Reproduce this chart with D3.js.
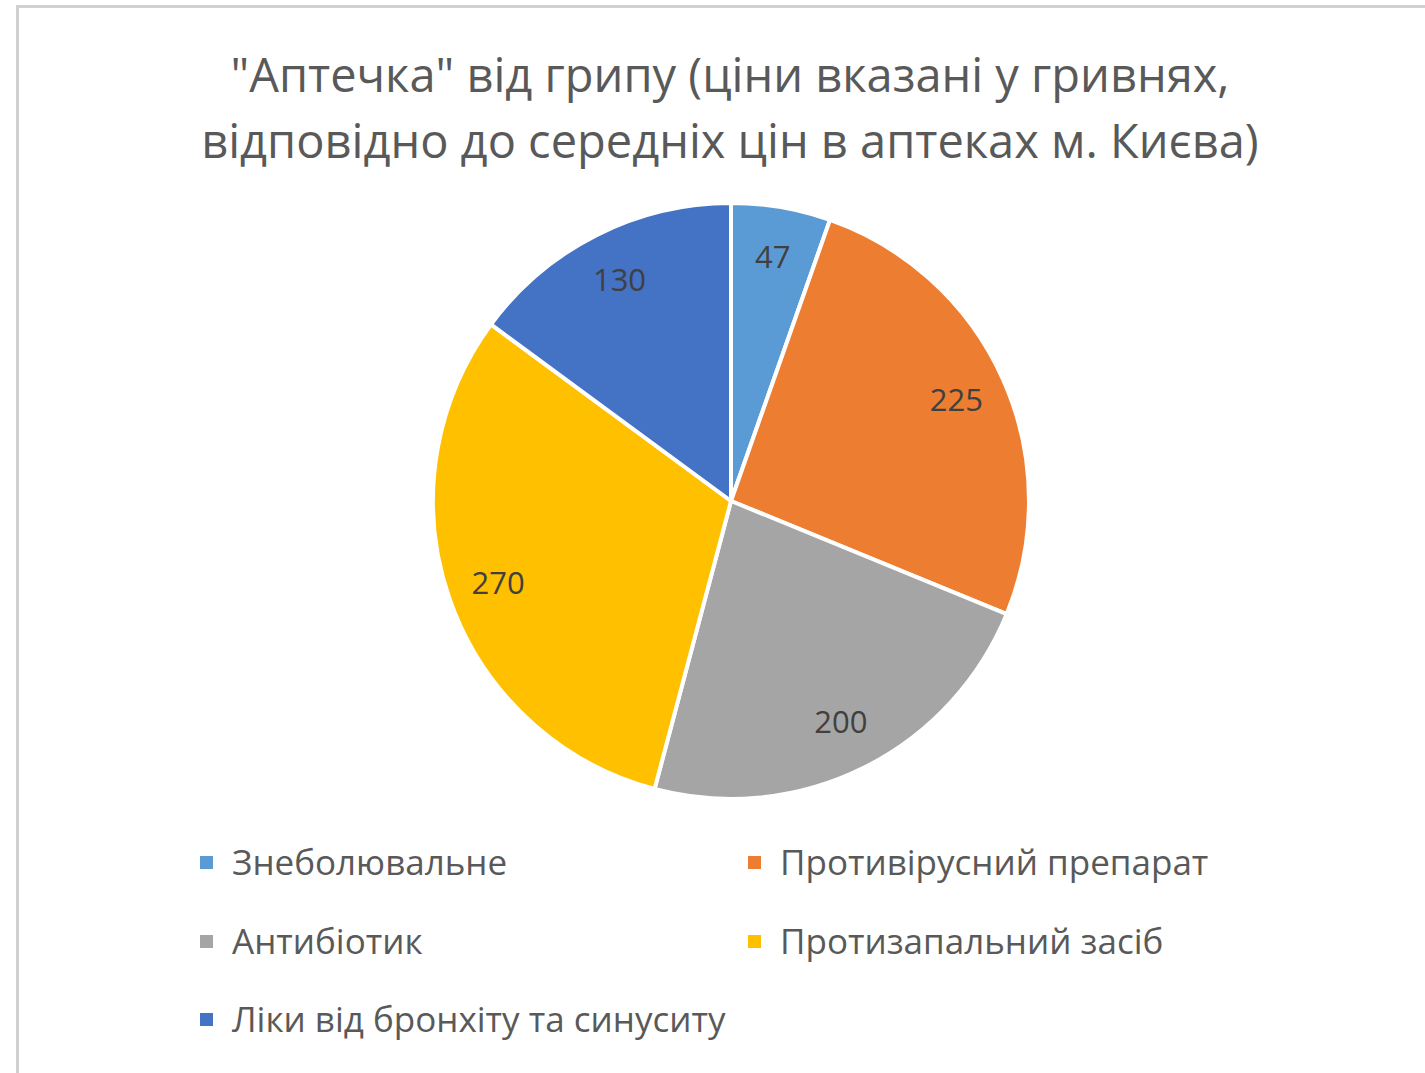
<!DOCTYPE html>
<html><head><meta charset="utf-8">
<script src="https://cdn.jsdelivr.net/npm/d3@7"></script>
<style>body{margin:0;background:#fff;}svg{display:block;}</style>
</head><body>
<svg id="c" width="1425" height="1073"></svg>
<script>
const categories = ["Знеболювальне","Противірусний препарат","Антибіотик","Протизапальний засіб","Ліки від бронхіту та синуситу"];
const values = [47,225,200,270,130];
const colors = ["#5B9BD5","#ED7D31","#A5A5A5","#FFC000","#4472C4"];
const titleLines = ["\"Аптечка\" від грипу (ціни вказані у гривнях,","відповідно до середніх цін в аптеках м. Києва)"];

const svg = d3.select("#c");
const font = "'Open Sans', 'Noto Sans', sans-serif";
svg.append("rect").attr("x",17.5).attr("y",6.5).attr("width",1500).attr("height",1200)
  .attr("fill","#fff").attr("stroke","#d0d0d0").attr("stroke-width",3);

svg.append("g").selectAll("text").data(titleLines).join("text")
  .attr("x",730).attr("y",(d,i)=>92+i*66).attr("text-anchor","middle")
  .attr("font-family",font).attr("font-size",47).attr("fill","#595959").text(d=>d);

const cx=731, cy=501, R=298;
const pie = d3.pie().sort(null).value(d=>d)(values);
const arc = d3.arc().innerRadius(0).outerRadius(R);
const labelArc = d3.arc().innerRadius(247).outerRadius(247);
const g = svg.append("g").attr("transform",`translate(${cx},${cy})`);
g.selectAll("path").data(pie).join("path").attr("d",arc)
  .attr("fill",(d,i)=>colors[i]).attr("stroke","#fff").attr("stroke-width",4).attr("stroke-linejoin","round");
g.selectAll("text").data(pie).join("text")
  .attr("transform",d=>`translate(${labelArc.centroid(d)})`)
  .attr("text-anchor","middle").attr("dy","0.35em")
  .attr("font-family",font).attr("font-size",31).attr("fill","#404040")
  .text(d=>d.data);

const colX=[200,748], rowY=[863,942,1020];
const lg = svg.append("g").selectAll("g").data(categories).join("g")
  .attr("transform",(d,i)=>`translate(${colX[i%2]},${rowY[Math.floor(i/2)]})`);
lg.append("rect").attr("x",0).attr("y",-7).attr("width",13).attr("height",13).attr("fill",(d,i)=>colors[i]);
lg.append("text").attr("x",32).attr("dy","0.35em").attr("font-family",font).attr("font-size",35)
  .attr("fill","#595959").text(d=>d);
</script>
</body></html>
